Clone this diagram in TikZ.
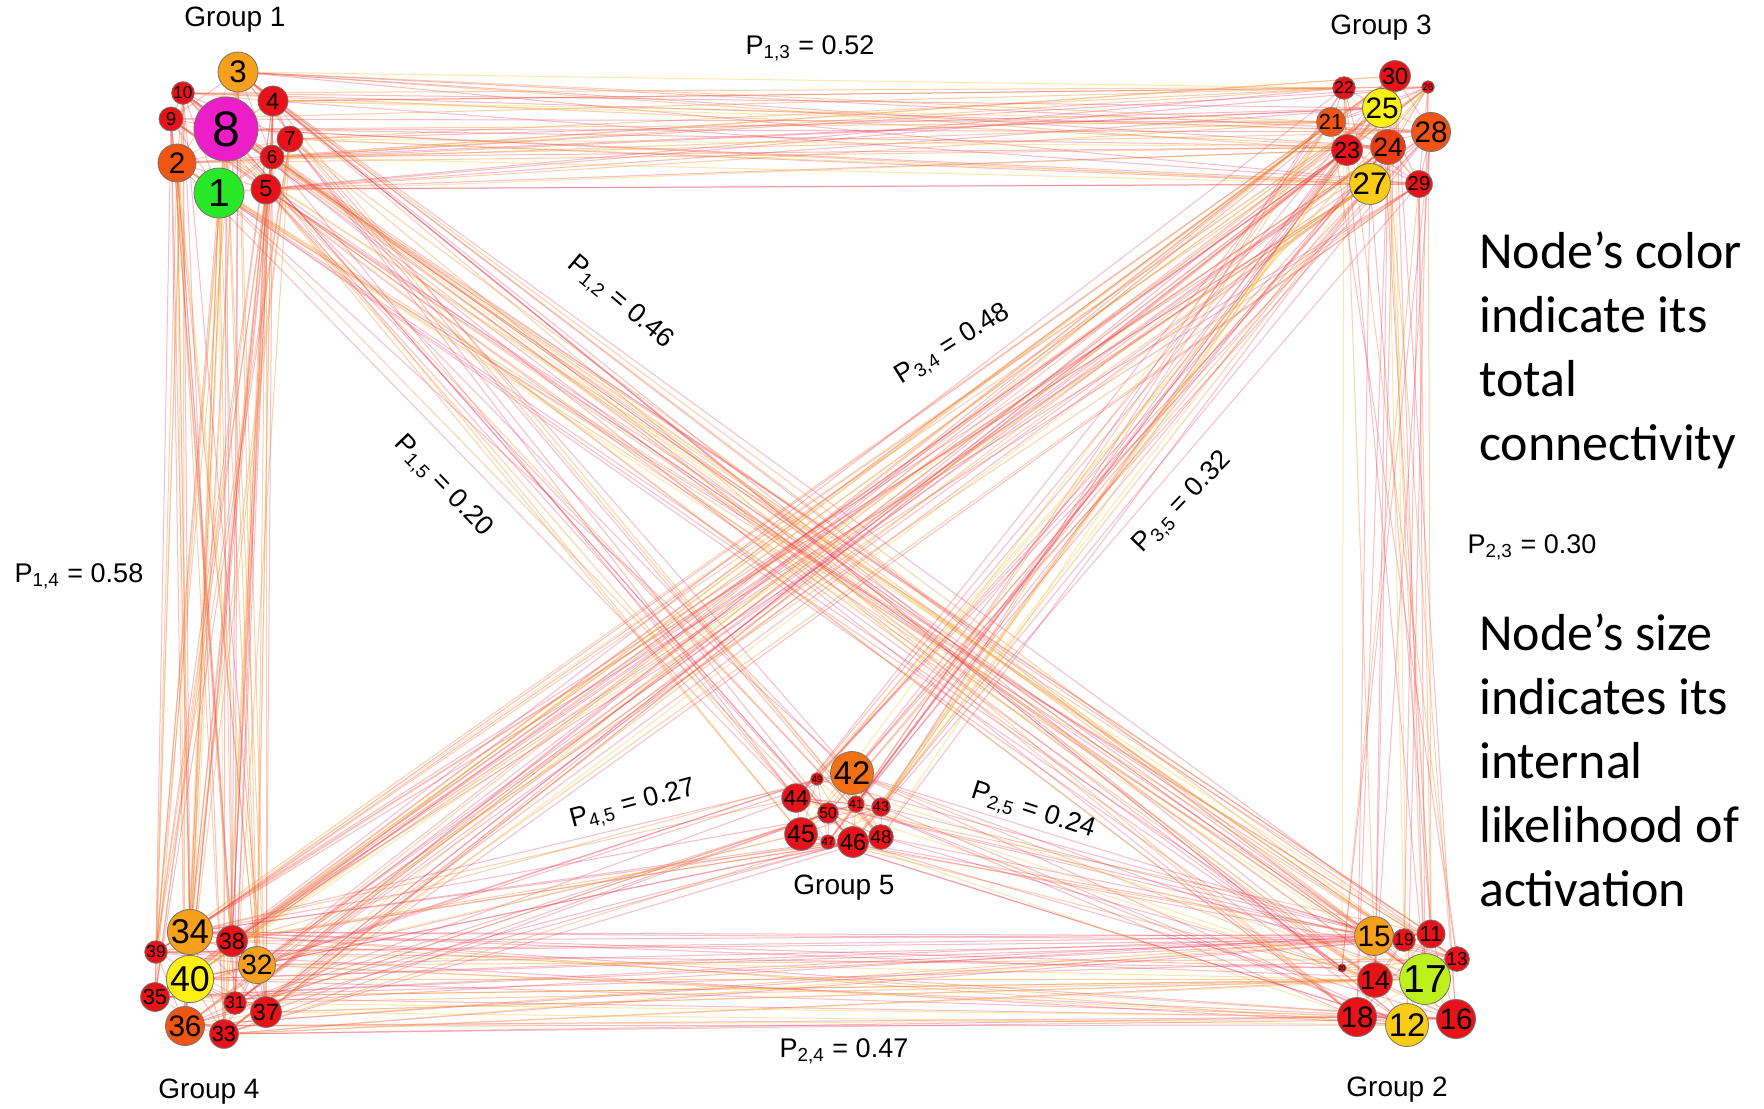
\documentclass[tikz,border=0pt]{standalone}
\usepackage{fontspec}
\setmainfont{Liberation Sans}
\newfontfamily\calfont{Carlito}
\usetikzlibrary{backgrounds}
\pgfdeclarelayer{bottom}
\pgfsetlayers{bottom,background,main}
\definecolor{cred}{RGB}{232,18,24}
\definecolor{corr}{RGB}{240,85,20}
\definecolor{corr2}{RGB}{236,60,20}
\definecolor{cora}{RGB}{246,160,28}
\definecolor{corb}{RGB}{242,112,20}
\definecolor{cyel}{RGB}{255,240,20}
\definecolor{cgold}{RGB}{250,205,20}
\definecolor{cgreen}{RGB}{40,232,40}
\definecolor{clime}{RGB}{190,240,30}
\definecolor{cmag}{RGB}{236,30,200}
\definecolor{eR}{RGB}{236,55,80}
\definecolor{eO}{RGB}{246,140,50}
\definecolor{eY}{RGB}{246,205,80}
\tikzset{
  nd/.style={circle, inner sep=0pt, draw=black!55, line width=0.4pt, text=black},
  edgeR/.style={draw=eR, opacity=0.33, line width=0.5pt},
  edgeO/.style={draw=eO, opacity=0.4, line width=0.5pt},
  edgeY/.style={draw=eY, opacity=0.45, line width=0.5pt},
  grp/.style={font=\fontsize{14}{16}\selectfont},
  plab/.style={font=\fontsize{13.5}{16}\selectfont},
  side/.style={font=\calfont\fontsize{26}{32}\selectfont, align=left, anchor=west}
}
\begin{document}
\begin{tikzpicture}[x=0.5pt,y=-0.5pt]
\useasboundingbox (0,0) rectangle (1764,1108);
\begin{pgfonlayer}{bottom}
\fill[white] (0,0) rectangle (1764,1108);
\end{pgfonlayer}
% nodes
\foreach \n/\x/\y/\r/\col in {
 1/219/193/25/cgreen, 2/177/163/19/corr, 3/238/72/20/cora, 4/273/101/15/cred,
 5/266/189/15/cred, 6/272/157/12/cred, 7/290/139/13/cred, 8/226/129/32/cmag,
 9/171/119/12/cred, 10/183/93/11/cred,
 11/1431/934/14/cred, 12/1407/1025/21/cgold, 13/1457/959/12/cred, 14/1375/980/17/cred,
 15/1374/936/19/cora, 16/1456/1019/19/cred, 17/1425/979/25/clime, 18/1357/1017/19/cred,
 19/1404/940/11/cred, 20/1342/968/4/cred,
 21/1331/122/14/corr, 22/1344/88/11/cred, 23/1347/150/15/cred, 24/1388/147/17/corr2,
 25/1382/108/19/cyel, 26/1428/87/6/cred, 27/1370/184/20/cgold, 28/1431/132/19/corr,
 29/1419/184/13/cred, 30/1395/76/15/cred,
 31/235/1003/11/cred, 32/257/965/18/cora, 33/224/1034/14/cred, 34/190/932/22/cora,
 35/155/997/14/cred, 36/185/1026/19/corr, 37/266/1012/15/cred, 38/232/941/15/cred,
 39/156/952/11/cred, 40/190/979/23/cyel,
 41/856/804/8/cred, 42/852/773/21/corb, 43/881/807/9/cred, 44/796/798/14/cred,
 45/801/834/16/cred, 46/853/842/15/cred, 47/828/842/7/cred, 48/881/837/12/cred,
 49/817/779/6/cred, 50/828/813/10/cred}{
  \pgfmathsetmacro\fs{0.78*\r}
  \node[nd, fill=\col, minimum size=\r pt, font=\fontsize{\fs pt}{\fs pt}\selectfont] (n\n) at (\x,\y) {\n};
}
% edges
\pgfmathsetseed{7}
\begin{scope}[on background layer]
\foreach \ga/\gb/\p in {1/1/0.6, 2/2/0.6, 3/3/0.6, 4/4/0.6, 5/5/0.6,
  1/2/0.46, 1/3/0.52, 1/4/0.58, 1/5/0.20, 2/3/0.30, 2/4/0.47, 2/5/0.24,
  3/4/0.48, 3/5/0.32, 4/5/0.27}{
  \foreach \i in {1,...,10}{
    \foreach \j in {1,...,10}{
      \pgfmathsetmacro\myr{rnd}
      \pgfmathsetmacro\myc{rnd}
      \pgfmathtruncatemacro\na{(\ga-1)*10+\i}
      \pgfmathtruncatemacro\nb{(\gb-1)*10+\j}
      \ifnum\na<\nb
        \ifdim\myr pt<\p pt
          \ifdim\myc pt<0.55pt
            \draw[edgeR] (n\na.center) -- (n\nb.center);
          \else\ifdim\myc pt<0.85pt
            \draw[edgeO] (n\na.center) -- (n\nb.center);
          \else
            \draw[edgeY] (n\na.center) -- (n\nb.center);
          \fi\fi
        \fi
      \fi
    }
  }
}
\end{scope}
% group labels
\node[grp] (g1) at (235,20) {Group 1};
\node[grp] (g3) at (1381,28) {Group 3};
\node[grp] (g4) at (209,1092) {Group 4};
\node[grp] (g2) at (1397,1090) {Group 2};
\node[grp] (g5) at (844,888) {Group 5};
% probability labels
\node[plab] (p13) at (810,48) {P\textsubscript{1,3} = 0.52};
\node[plab] (p14) at (79,576) {P\textsubscript{1,4} = 0.58};
\node[plab] (p23) at (1532,547) {P\textsubscript{2,3} = 0.30};
\node[plab] (p24) at (844,1051) {P\textsubscript{2,4} = 0.47};
\node[plab, rotate=-40] (p12) at (620,303) {P\textsubscript{1,2} = 0.46};
\node[plab, rotate=32] (p34) at (953,345) {P\textsubscript{3,4} = 0.48};
\node[plab, rotate=-46] (p15) at (443,487) {P\textsubscript{1,5} = 0.20};
\node[plab, rotate=46] (p35) at (1183,503) {P\textsubscript{3,5} = 0.32};
\node[plab, rotate=15] (p45) at (633,805) {P\textsubscript{4,5} = 0.27};
\node[plab, rotate=-18] (p25) at (1033,812) {P\textsubscript{2,5} = 0.24};
% side text
\node[side] (t1) at (1472,350) {Node’s color\\indicate its\\total\\connectivity};
\node[side] (t2) at (1472,760) {Node’s size\\indicates its\\internal\\likelihood of\\activation};
\end{tikzpicture}
\end{document}
